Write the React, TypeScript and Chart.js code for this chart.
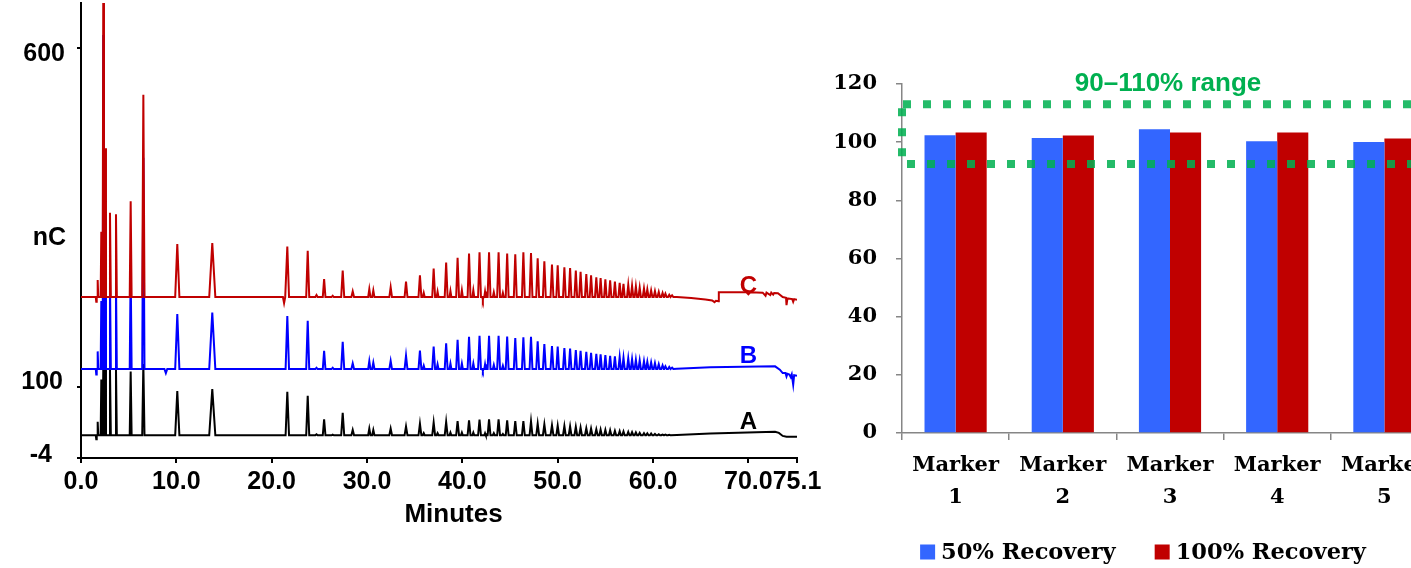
import React, { useEffect, useRef } from 'react';
import { Chart, registerables } from 'chart.js';

Chart.register(...registerables);

// ---------------- Left panel: chromatogram data ----------------
const xTickValues = [0, 10, 20, 30, 40, 50, 60, 70, 75.1];
const yTickValues = [-4, 100, 600];
const yLabelValues = [600, 320, 100, -4];
const yLabelTexts = ['600', 'nC', '100', '-4'];
const traceNames = ['C', 'B', 'A'];
const traceLabelTime = 70.0;
const traceLabelValues = [249, 145, 49];
const traceBaselines = [233, 127, 29.5];

// retention times (min) of peaks / dips, shared by the three runs
const peakTimes = [
  1.6, 1.75, 2.13, 2.34, 2.55, 3.04, 3.67, 5.21, 6.54, 8.9,
  10.1, 13.77, 21.3, 21.64, 23.78, 24.7, 25.5, 26.4, 27.45, 28.5,
  30.24, 30.66, 32.48, 34.09, 35.55, 35.95, 36.99, 37.4, 38.3, 38.75,
  39.5, 39.95, 40.7, 41.15, 41.8, 42.15, 42.38, 42.8, 43.3, 43.8,
  44.25, 44.7, 45.55, 46.4, 47.2, 47.9, 48.6, 49.4, 50.0, 50.7,
  51.3, 51.9, 52.4, 53.0, 53.5, 54.05, 54.5, 55.0, 55.5, 56.0,
  56.5, 56.9, 57.4, 57.8, 58.2, 58.6, 59.05, 59.4, 59.8, 60.2,
  60.6, 61.0, 61.3, 61.7, 62.0,
];
const peakHalfWidths = [
  0.05, 0.06, 0.07, 0.07, 0.07, 0.09, 0.09, 0.1, 0.12, 0.15,
  0.22, 0.32, 0.12, 0.18, 0.16, 0.12, 0.14, 0.12, 0.16, 0.14,
  0.12, 0.12, 0.14, 0.15, 0.15, 0.1, 0.15, 0.1, 0.15, 0.1,
  0.15, 0.1, 0.15, 0.1, 0.15, 0.06, 0.08, 0.15, 0.1, 0.15,
  0.1, 0.15, 0.15, 0.15, 0.15, 0.15, 0.15, 0.15, 0.14, 0.14,
  0.14, 0.14, 0.14, 0.14, 0.14, 0.14, 0.13, 0.13, 0.13, 0.13,
  0.13, 0.13, 0.13, 0.13, 0.13, 0.13, 0.13, 0.13, 0.13, 0.13,
  0.13, 0.13, 0.13, 0.13, 0.13,
];
const peakHeightsC = [
  -7, 25, 96, 480, 219, 124, 122, 141, 298, 0,
  78, 79.5, -9, 74.5, 68, 3, 26.5, 2, 39, 8.3,
  11.8, 9.7, 14.5, 22.6, 32, 6, 42, 8, 51, 9,
  58, 10, 64, 10, 66, -4, 8, 66, 7, 66,
  6, 64, 63, 66, 65, 57, 52.6, 48, 46.7, 44,
  42.7, 39, 37, 34, 32, 29, 28, 26, 24.6, 22.6,
  21, 19.6, 18, 16.7, 15.7, 14, 12.8, 11.4, 9.8, 8.8,
  7.4, 6, 5, 3.4, 2.5,
];
const peakHeightsB = [
  -8, 26, 100, 492, 228, 129, 127, 147, 311, -6,
  81, 83, 0, 78, 71, 2, 27, 2, 40, 8.4,
  11.8, 9.4, 12, 19.6, 27, 5, 33, 7, 38, 8,
  43, 8, 47.6, 8, 49, -3, 7, 49, 6, 49,
  5, 48, 45.7, 46.6, 47.6, 40.8, 36.8, 34, 33, 31,
  30, 28, 27, 25.5, 24, 22.5, 21.6, 20.6, 19.6, 18.7,
  17.7, 16.6, 15.7, 14.7, 13.7, 12.8, 11.8, 10.8, 9.8, 8.8,
  7, 5.5, 4, 3, 2,
];
const peakHeightsA = [
  -6, 20, 82, 104, 104, 97, 97, 94, 105, 0,
  65, 68, 0, 64, 58, 1.5, 23.6, 1, 33, 7.8,
  9.8, 7.8, 9.8, 13, 17, 3, 18.7, 3, 19.6, 4,
  21, 4, 22, 4, 23, 0, 3, 23.5, 3, 23.5,
  2, 22, 21, 21, 20.6, 17, 16, 14.7, 14, 13.7,
  13, 12.3, 11.3, 10.3, 9.8, 8.8, 8.3, 7.9, 7.4, 6.5,
  6, 5.5, 5, 4.5, 4, 3.5, 3, 2.8, 2.5, 2,
  1.5, 1, 0.8, 0.5, 0,
];
// baseline after the last peak: [minutes, nC]
const tailC = [
  [62.5, 233], [64.0, 231.5], [65.5, 229.5], [66.2, 228], [66.45, 225.5], [66.6, 227.5],
  [66.85, 227], [66.9, 240], [69.8, 240], [70.0, 237], [70.2, 240], [71.5, 239.5],
  [71.8, 235], [71.9, 239.5], [72.3, 236], [72.4, 239.5], [72.6, 236.5], [72.7, 239],
  [73.1, 238.5], [73.6, 233], [73.95, 232], [74.0, 221], [74.1, 231], [74.6, 230],
  [74.7, 226], [74.8, 230], [75.1, 229],
];
const tailB = [
  [62.5, 127.5], [66.0, 129.5], [72.8, 131], [73.3, 126], [73.6, 121], [73.9, 121],
  [74.0, 116], [74.1, 120], [74.3, 119], [74.45, 115], [74.55, 119], [74.7, 104],
  [74.8, 118], [75.1, 117],
];
const tailA = [
  [62.5, 30], [66.0, 32], [72.8, 34.5], [73.2, 33], [73.6, 28.5], [74.0, 27.4], [75.1, 27.2],
];

// ---------------- Right panel: recovery data ----------------
const markerLabels = [['Marker', '1'], ['Marker', '2'], ['Marker', '3'], ['Marker', '4'], ['Marker', '5']];
const recovery50 = [102.4, 101.4, 104.4, 100.3, 100.1];
const recovery100 = [103.3, 102.3, 103.3, 103.3, 101.3];
const seriesNames = ['50% Recovery', '100% Recovery'];
const rangeBounds = [113, 92.5];
const rangeTitle = '90–110% range';

// ---------------- styling / layout ----------------
const SANS = '"Liberation Sans", Arial, sans-serif';
const SERIF = '"DejaVu Serif", serif';
const TRACE_COLORS = ['#C00000', '#0000FF', '#000000'];
const BAR_COLORS = ['#3366FF', '#C00000'];
const GREEN = '#00B050';
const Y_LABEL_RIGHT = [65, 66, 63, 52];
const Y_LABEL_DY = [6, 0, -5, -3];
const LEGEND_CENTER_X = 313;

function buildTrace(base: number, heights: number[], tail: number[][]) {
  const pts: { x: number; y: number }[] = [{ x: 0, y: base }];
  peakTimes.forEach((t, i) => {
    const h = heights[i];
    if (!h) return;
    const w = peakHalfWidths[i];
    pts.push({ x: t - w, y: base }, { x: t, y: base + h }, { x: t + w, y: base });
  });
  tail.forEach(([t, v]) => pts.push({ x: t, y: v }));
  return pts;
}

const chromPlugin = {
  id: 'chromText',
  afterDraw(chart: any) {
    const { ctx, chartArea } = chart;
    const x = chart.scales.x;
    const y = chart.scales.y;
    ctx.save();
    ctx.fillStyle = '#000';
    ctx.font = `bold 25px ${SANS}`;
    ctx.textAlign = 'right';
    ctx.textBaseline = 'middle';
    yLabelTexts.forEach((t, i) => {
      ctx.fillText(t, Y_LABEL_RIGHT[i], y.getPixelForValue(yLabelValues[i]) + Y_LABEL_DY[i]);
    });
    ctx.textAlign = 'center';
    ctx.font = `bold 26px ${SANS}`;
    ctx.fillText('Minutes', (chartArea.left + chartArea.right) / 2 + 14.5, 515);
    ctx.font = `bold 24px ${SANS}`;
    traceNames.forEach((n, i) => {
      ctx.fillStyle = TRACE_COLORS[i];
      ctx.fillText(n, x.getPixelForValue(traceLabelTime), y.getPixelForValue(traceLabelValues[i]));
    });
    ctx.restore();
  },
};

const recoveryPlugin = {
  id: 'recoveryExtras',
  afterDatasetsDraw(chart: any) {
    const { ctx, chartArea } = chart;
    const y = chart.scales.y;
    const yHi = y.getPixelForValue(rangeBounds[0]);
    const yLo = y.getPixelForValue(rangeBounds[1]);
    ctx.save();
    ctx.strokeStyle = 'rgba(0,176,80,0.86)';
    ctx.lineWidth = 8;
    ctx.setLineDash([8, 12]);
    ctx.beginPath();
    ctx.moveTo(chartArea.left + 1, yHi);
    ctx.lineTo(chart.width, yHi);
    ctx.stroke();
    ctx.lineDashOffset = -4;
    ctx.beginPath();
    ctx.moveTo(chartArea.left + 1, yLo);
    ctx.lineTo(chart.width, yLo);
    ctx.stroke();
    ctx.lineDashOffset = 0;
    ctx.beginPath();
    ctx.moveTo(chartArea.left, yHi + 4);
    ctx.lineTo(chartArea.left, yLo - 4);
    ctx.stroke();
    ctx.restore();
  },
  afterDraw(chart: any) {
    const { ctx, chartArea } = chart;
    ctx.save();
    ctx.fillStyle = GREEN;
    ctx.font = `bold 26px ${SANS}`;
    ctx.textAlign = 'center';
    ctx.textBaseline = 'middle';
    ctx.fillText(rangeTitle, (chartArea.left + chartArea.right) / 2 - 2, chartArea.top);
    // legend
    ctx.font = `bold 22.5px ${SERIF}`;
    ctx.textAlign = 'left';
    const box = 15, gap = 6, itemGap = 39;
    const widths = seriesNames.map((s) => ctx.measureText(s).width);
    const total = widths.reduce((a, w) => a + box + gap + w, 0) + itemGap * (seriesNames.length - 1);
    let cx = LEGEND_CENTER_X - total / 2;
    const cy = 552;
    seriesNames.forEach((s, i) => {
      ctx.fillStyle = BAR_COLORS[i];
      ctx.fillRect(cx, cy - box / 2, box, box);
      ctx.fillStyle = '#000';
      ctx.fillText(s, cx + box + gap, cy + 1);
      cx += box + gap + widths[i] + itemGap;
    });
    ctx.restore();
  },
};

export default function App() {
  const leftRef = useRef<HTMLCanvasElement>(null);
  const rightRef = useRef<HTMLCanvasElement>(null);

  useEffect(() => {
    const traces = [
      buildTrace(traceBaselines[0], peakHeightsC, tailC),
      buildTrace(traceBaselines[1], peakHeightsB, tailB),
      buildTrace(traceBaselines[2], peakHeightsA, tailA),
    ];
    const left = new Chart(leftRef.current as HTMLCanvasElement, {
      type: 'line',
      data: {
        datasets: traces.map((d, i) => ({
          label: traceNames[i],
          data: d,
          borderColor: TRACE_COLORS[i],
          borderWidth: 2,
          pointRadius: 0,
          tension: 0,
          fill: false,
        })),
      },
      options: {
        animation: false,
        responsive: false,
        maintainAspectRatio: false,
        layout: { padding: { top: 3, right: 33, left: 0, bottom: 0 } },
        plugins: { legend: { display: false }, tooltip: { enabled: false } },
        scales: {
          x: {
            type: 'linear',
            min: 0,
            max: 75.1,
            afterBuildTicks: (s: any) => {
              s.ticks = xTickValues.map((v) => ({ value: v }));
            },
            afterFit: (s: any) => {
              s.height = 110;
            },
            ticks: {
              autoSkip: false,
              maxRotation: 0,
              minRotation: 0,
              padding: 4,
              color: '#000',
              font: { family: SANS, size: 25, weight: 'bold' },
              callback: (v: any) => Number(v).toFixed(1),
            },
            grid: { drawOnChartArea: false, drawTicks: true, tickLength: 5, color: '#000', lineWidth: 2 },
            border: { display: true, color: '#000', width: 2 },
          },
          y: {
            type: 'linear',
            min: -4,
            max: 666,
            afterBuildTicks: (s: any) => {
              s.ticks = yTickValues.map((v) => ({ value: v }));
            },
            afterFit: (s: any) => {
              s.width = 81;
            },
            ticks: { display: false },
            grid: { drawOnChartArea: false, drawTicks: true, tickLength: 4, color: '#000', lineWidth: 2 },
            border: { display: true, color: '#000', width: 2 },
          },
        },
      } as any,
      plugins: [chromPlugin],
    });

    const right = new Chart(rightRef.current as HTMLCanvasElement, {
      type: 'bar',
      data: {
        labels: markerLabels,
        datasets: [
          { label: seriesNames[0], data: recovery50, backgroundColor: BAR_COLORS[0] },
          { label: seriesNames[1], data: recovery100, backgroundColor: BAR_COLORS[1] },
        ],
      },
      options: {
        animation: false,
        responsive: false,
        maintainAspectRatio: false,
        layout: { padding: { top: 84, left: 0, right: 18, bottom: 0 } },
        plugins: { legend: { display: false }, tooltip: { enabled: false } },
        datasets: { bar: { categoryPercentage: 0.58, barPercentage: 1.0 } },
        scales: {
          x: {
            afterFit: (s: any) => {
              s.height = 135;
            },
            ticks: {
              color: '#000',
              padding: 10,
              maxRotation: 0,
              autoSkip: false,
              font: { family: SERIF, size: 21, weight: 'bold', lineHeight: 1.5 },
            },
            grid: { offset: true, drawOnChartArea: false, tickLength: 7, color: '#868686', lineWidth: 1.5 },
            border: { display: true, color: '#868686', width: 1.5 },
          },
          y: {
            min: 0,
            max: 120,
            afterFit: (s: any) => {
              s.width = 72;
            },
            ticks: {
              stepSize: 20,
              color: '#000',
              padding: 19,
              font: { family: SERIF, size: 21, weight: 'bold' },
            },
            grid: { drawOnChartArea: false, tickLength: 6, color: '#868686', lineWidth: 1.5 },
            border: { display: true, color: '#868686', width: 1.5 },
          },
        },
      } as any,
      plugins: [recoveryPlugin],
    });

    return () => {
      left.destroy();
      right.destroy();
    };
  }, []);

  return (
    <div
      style={{
        position: 'fixed',
        left: 0,
        top: 0,
        width: 1411,
        height: 568,
        overflow: 'hidden',
        background: '#fff',
      }}
    >
      <canvas
        ref={leftRef}
        width={830}
        height={568}
        style={{ position: 'absolute', left: 0, top: 0, width: 830, height: 568 }}
      />
      <canvas
        ref={rightRef}
        width={626}
        height={568}
        style={{ position: 'absolute', left: 830, top: 0, width: 626, height: 568 }}
      />
    </div>
  );
}
